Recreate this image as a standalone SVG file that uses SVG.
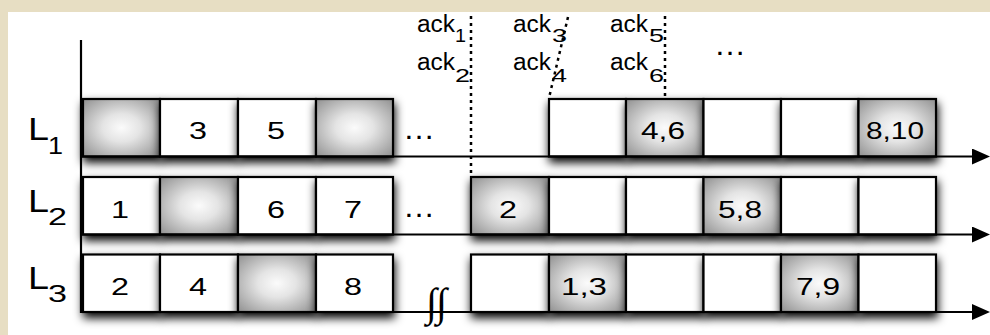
<svg xmlns="http://www.w3.org/2000/svg" width="990" height="335" viewBox="0 0 990 335">
  <defs>
    <style>
      .t{font-family:"Liberation Sans",Arial,Helvetica,sans-serif;fill:#000}
      .num{font-size:23px;text-anchor:middle}
      .lab{font-size:32px}
      .sub{font-size:23px}
      .ack{font-size:23px}
      .asub{font-size:19px}
      .box{fill:#fff;stroke:#000;stroke-width:2.2;filter:url(#sh)}
      .gray{fill:url(#rg)}
      .axis{stroke:#000;stroke-width:2.2;fill:none}
      .dot{stroke:#000;stroke-width:2.5;fill:none;stroke-dasharray:3 4}
    </style>
    <radialGradient id="rg" cx="0.5" cy="0.5" r="0.7">
      <stop offset="0" stop-color="#fbfbfb"/>
      <stop offset="0.35" stop-color="#e4e4e4"/>
      <stop offset="1" stop-color="#909090"/>
    </radialGradient>
    <filter id="sh" x="-30%" y="-30%" width="160%" height="180%">
      <feGaussianBlur in="SourceAlpha" stdDeviation="5"/>
      <feOffset dx="1" dy="5"/>
      <feComponentTransfer><feFuncA type="linear" slope="1"/></feComponentTransfer>
      <feMerge><feMergeNode/><feMergeNode in="SourceGraphic"/></feMerge>
    </filter>
    <marker id="ah" viewBox="0 0 18 16" refX="10" refY="8" markerWidth="18" markerHeight="16" markerUnits="userSpaceOnUse" orient="auto">
      <path d="M0,0 L18,8 L0,16 z" fill="#000"/>
    </marker>
  </defs>

  <!-- page -->
  <rect x="0" y="0" width="990" height="335" fill="#e7dec3"/>
  <rect x="8" y="12" width="982" height="323" fill="#fff"/>

  <!-- lane labels -->
  <g id="label-L1"><text class="t lab" x="28" y="140" textLength="21" lengthAdjust="spacingAndGlyphs">L</text><text class="t sub" x="48" y="154" textLength="15" lengthAdjust="spacingAndGlyphs">1</text></g>
  <g id="label-L2"><text class="t lab" x="28" y="212" textLength="21" lengthAdjust="spacingAndGlyphs">L</text><text class="t sub" x="48" y="225" textLength="19" lengthAdjust="spacingAndGlyphs">2</text></g>
  <g id="label-L3"><text class="t lab" x="28" y="289" textLength="21" lengthAdjust="spacingAndGlyphs">L</text><text class="t sub" x="48" y="302" textLength="19" lengthAdjust="spacingAndGlyphs">3</text></g>

  <!-- lane 1 -->
  <g id="l1-a"><rect class="box gray" x="83" y="99" width="77" height="57.5"/></g>
  <g id="l1-b"><rect class="box" x="160" y="99" width="78" height="57.5"/><text class="t num" x="198" y="139" textLength="18" lengthAdjust="spacingAndGlyphs">3</text></g>
  <g id="l1-c"><rect class="box" x="238" y="99" width="78" height="57.5"/><text class="t num" x="276" y="139" textLength="18" lengthAdjust="spacingAndGlyphs">5</text></g>
  <g id="l1-d"><rect class="box gray" x="316" y="99" width="77" height="57.5"/></g>
  <g id="l1-e"><rect class="box" x="549" y="99" width="77" height="57.5"/></g>
  <g id="l1-f"><rect class="box gray" x="626" y="99" width="77.5" height="57.5"/><text class="t num" x="663" y="139" textLength="44" lengthAdjust="spacingAndGlyphs">4,6</text></g>
  <g id="l1-g"><rect class="box" x="703.5" y="99" width="77.5" height="57.5"/></g>
  <g id="l1-h"><rect class="box" x="781" y="99" width="77.5" height="57.5"/></g>
  <g id="l1-i"><rect class="box gray" x="858.5" y="99" width="77.5" height="57.5"/><text class="t num" x="895" y="139" textLength="58" lengthAdjust="spacingAndGlyphs">8,10</text></g>

  <!-- lane 2 -->
  <g id="l2-a"><rect class="box" x="83" y="177" width="77" height="57.5"/><text class="t num" x="120" y="218" textLength="18" lengthAdjust="spacingAndGlyphs">1</text></g>
  <g id="l2-b"><rect class="box gray" x="160" y="177" width="78" height="57.5"/></g>
  <g id="l2-c"><rect class="box" x="238" y="177" width="78" height="57.5"/><text class="t num" x="276" y="218" textLength="18" lengthAdjust="spacingAndGlyphs">6</text></g>
  <g id="l2-d"><rect class="box" x="316" y="177" width="77" height="57.5"/><text class="t num" x="353" y="218" textLength="18" lengthAdjust="spacingAndGlyphs">7</text></g>
  <g id="l2-e"><rect class="box gray" x="471" y="177" width="78" height="57.5"/><text class="t num" x="508" y="218" textLength="18" lengthAdjust="spacingAndGlyphs">2</text></g>
  <g id="l2-f"><rect class="box" x="549" y="177" width="77" height="57.5"/></g>
  <g id="l2-g"><rect class="box" x="626" y="177" width="77.5" height="57.5"/></g>
  <g id="l2-h"><rect class="box gray" x="703.5" y="177" width="77.5" height="57.5"/><text class="t num" x="740" y="218" textLength="44" lengthAdjust="spacingAndGlyphs">5,8</text></g>
  <g id="l2-i"><rect class="box" x="781" y="177" width="77.5" height="57.5"/></g>
  <g id="l2-j"><rect class="box" x="858.5" y="177" width="77.5" height="57.5"/></g>

  <!-- lane 3 -->
  <g id="l3-a"><rect class="box" x="83" y="254.5" width="77" height="57.5"/><text class="t num" x="120" y="295" textLength="18" lengthAdjust="spacingAndGlyphs">2</text></g>
  <g id="l3-b"><rect class="box" x="160" y="254.5" width="78" height="57.5"/><text class="t num" x="198" y="295" textLength="18" lengthAdjust="spacingAndGlyphs">4</text></g>
  <g id="l3-c"><rect class="box gray" x="238" y="254.5" width="78" height="57.5"/></g>
  <g id="l3-d"><rect class="box" x="316" y="254.5" width="77" height="57.5"/><text class="t num" x="353" y="295" textLength="18" lengthAdjust="spacingAndGlyphs">8</text></g>
  <g id="l3-e"><rect class="box" x="471" y="254.5" width="78" height="57.5"/></g>
  <g id="l3-f"><rect class="box gray" x="549" y="254.5" width="77" height="57.5"/><text class="t num" x="584" y="295" textLength="46" lengthAdjust="spacingAndGlyphs">1,3</text></g>
  <g id="l3-g"><rect class="box" x="626" y="254.5" width="77.5" height="57.5"/></g>
  <g id="l3-h"><rect class="box" x="703.5" y="254.5" width="77.5" height="57.5"/></g>
  <g id="l3-i"><rect class="box gray" x="781" y="254.5" width="77.5" height="57.5"/><text class="t num" x="818" y="295" textLength="44" lengthAdjust="spacingAndGlyphs">7,9</text></g>
  <g id="l3-j"><rect class="box" x="858.5" y="254.5" width="77.5" height="57.5"/></g>

  <!-- gaps in the lanes -->
  <g id="gaps">
    <text class="t" x="403" y="139" font-size="32">…</text>
    <text class="t" x="403" y="217" font-size="32">…</text>
    <text class="t" x="714" y="55" font-size="32">…</text>
    <text x="426" y="316" font-family="'Liberation Serif','DejaVu Serif',serif" font-size="40" letter-spacing="-1">∫∫</text>
  </g>

  <!-- ack labels -->
  <g id="acks">
    <text class="t ack" x="417" y="32" textLength="38" lengthAdjust="spacingAndGlyphs">ack</text><text class="t asub" x="455" y="42" textLength="11" lengthAdjust="spacingAndGlyphs">1</text>
    <text class="t ack" x="417" y="70" textLength="38" lengthAdjust="spacingAndGlyphs">ack</text><text class="t asub" x="455" y="82" textLength="15" lengthAdjust="spacingAndGlyphs">2</text>
    <text class="t ack" x="513" y="32" textLength="38" lengthAdjust="spacingAndGlyphs">ack</text><text class="t asub" x="552" y="42" textLength="15" lengthAdjust="spacingAndGlyphs">3</text>
    <text class="t ack" x="513" y="70" textLength="38" lengthAdjust="spacingAndGlyphs">ack</text><text class="t asub" x="552" y="82" textLength="15" lengthAdjust="spacingAndGlyphs">4</text>
    <text class="t ack" x="610" y="32" textLength="38" lengthAdjust="spacingAndGlyphs">ack</text><text class="t asub" x="649" y="42" textLength="15" lengthAdjust="spacingAndGlyphs">5</text>
    <text class="t ack" x="610" y="70" textLength="38" lengthAdjust="spacingAndGlyphs">ack</text><text class="t asub" x="649" y="82" textLength="15" lengthAdjust="spacingAndGlyphs">6</text>
  </g>

  <!-- axes and ack markers -->
  <g id="connectors">
    <line class="axis" x1="81" y1="40" x2="81" y2="313"/>
    <line class="axis" x1="81" y1="156.5" x2="982" y2="156.5" marker-end="url(#ah)"/>
    <line class="axis" x1="81" y1="234.5" x2="982" y2="234.5" marker-end="url(#ah)"/>
    <line class="axis" x1="81" y1="312" x2="982" y2="312" marker-end="url(#ah)"/>
    <line class="dot" x1="471" y1="16" x2="471" y2="175"/>
    <line class="dot" x1="568" y1="17" x2="549" y2="98"/>
    <line class="dot" x1="665" y1="16" x2="665" y2="98"/>
  </g>
</svg>
